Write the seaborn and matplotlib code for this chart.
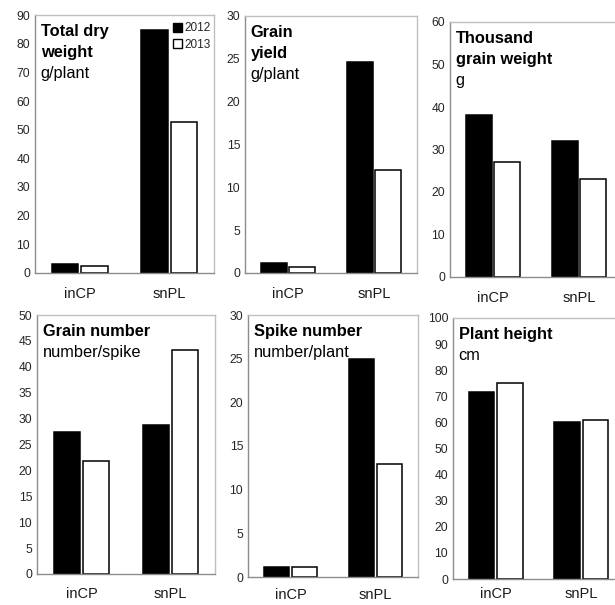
import numpy as np
import pandas as pd
import seaborn as sns
import matplotlib.pyplot as plt
from matplotlib.patches import Patch

# dados
categorias = ['inCP', 'snPL']
anos = ['2012', '2013']

peso_seco_2012 = [3.3, 84.8]
peso_seco_2013 = [2.6, 52.5]
produtividade_2012 = [1.2, 24.6]
produtividade_2013 = [0.7, 12.0]
peso_mil_graos_2012 = [38.2, 32.0]
peso_mil_graos_2013 = [27.1, 23.1]
numero_graos_2012 = [27.5, 28.8]
numero_graos_2013 = [21.9, 43.3]
numero_espigas_2012 = [1.2, 25.0]
numero_espigas_2013 = [1.2, 12.9]
altura_2012 = [71.5, 60.2]
altura_2013 = [75.2, 60.8]

paineis = [
    (['Total dry', 'weight'], 'g/plant', peso_seco_2012, peso_seco_2013, 90, 10),
    (['Grain', 'yield'], 'g/plant', produtividade_2012, produtividade_2013, 30, 5),
    (['Thousand', 'grain weight'], 'g', peso_mil_graos_2012, peso_mil_graos_2013, 60, 10),
    (['Grain number'], 'number/spike', numero_graos_2012, numero_graos_2013, 50, 5),
    (['Spike number'], 'number/plant', numero_espigas_2012, numero_espigas_2013, 30, 5),
    (['Plant height'], 'cm', altura_2012, altura_2013, 100, 10),
]

# posições dos eixos em pixels (esquerda, direita, topo, base) e pad dos rótulos x
W, H = 615, 605
caixas = [
    (35, 214, 15, 273, 10),
    (245, 417, 16, 273, 10),
    (450, 622, 22, 277, 10),
    (37, 215, 315, 574, 9),
    (248, 418, 315, 577, 8),
    (453, 624, 318, 579, 5.5),
]

sns.set_style('white')
plt.rcParams['font.family'] = ['Liberation Sans', 'DejaVu Sans']

fig = plt.figure(figsize=(W / 100, H / 100), dpi=100)
cores = {'2012': 'black', '2013': 'white'}

for (titulo, unidade, v2012, v2013, ymax, passo), (x0, x1, y0, y1, pad_x) in zip(paineis, caixas):
    ax = fig.add_axes([x0 / W, 1 - y1 / H, (x1 - x0) / W, (y1 - y0) / H])
    df = pd.DataFrame({
        'categoria': categorias * 2,
        'ano': [anos[0]] * 2 + [anos[1]] * 2,
        'valor': list(v2012) + list(v2013),
    })
    sns.barplot(data=df, x='categoria', y='valor', hue='ano', order=categorias,
                hue_order=anos, palette=cores, edgecolor='black', linewidth=1.1,
                width=0.66, gap=0.1, errorbar=None, legend=False, ax=ax)

    ax.set_xlim(-0.5, 1.5)
    ax.set_ylim(0, ymax)
    ax.set_yticks(np.arange(0, ymax + 1, passo))
    ax.set_xlabel('')
    ax.set_ylabel('')

    # ticks do eixo x nas divisas das categorias, rótulos no centro
    ax.set_xticks([-0.5, 0.5, 1.5], labels=['', '', ''])
    ax.set_xticks([0, 1], labels=categorias, minor=True)
    ax.tick_params(axis='x', which='major', direction='out', length=5, width=1, color='#8c8c8c')
    ax.tick_params(axis='x', which='minor', length=0, pad=pad_x, labelsize=10.5, labelcolor='#1a1a1a')
    ax.tick_params(axis='y', direction='out', length=3, width=1, color='#8c8c8c',
                   pad=0.5, labelsize=8.7, labelcolor='#262626')

    for lado in ['top', 'right']:
        ax.spines[lado].set_color('#bfbfbf')
        ax.spines[lado].set_linewidth(1)
    for lado in ['left', 'bottom']:
        ax.spines[lado].set_color('#8c8c8c')
        ax.spines[lado].set_linewidth(1)

    # título em negrito + unidade
    linhas = [(t, 'bold') for t in titulo] + [(unidade, 'normal')]
    for i, (texto, peso) in enumerate(linhas):
        ax.annotate(texto, xy=(0, 1), xycoords='axes fraction',
                    xytext=(4.0, -15.3 - i * 15.1), textcoords='offset points',
                    ha='left', va='baseline', fontsize=11.8, fontweight=peso, color='black')

    if titulo[0] == 'Total dry':
        handles = [Patch(facecolor='black', edgecolor='black'),
                   Patch(facecolor='white', edgecolor='black')]
        ax.legend(handles, anos, loc='upper right', bbox_to_anchor=(1.0, 0.985),
                  frameon=False, fontsize=8.5, handlelength=0.75, handleheight=0.75,
                  handletextpad=0.2, borderaxespad=0.1, labelspacing=0.35, borderpad=0.2)

fig.savefig('out.png', dpi=100)
